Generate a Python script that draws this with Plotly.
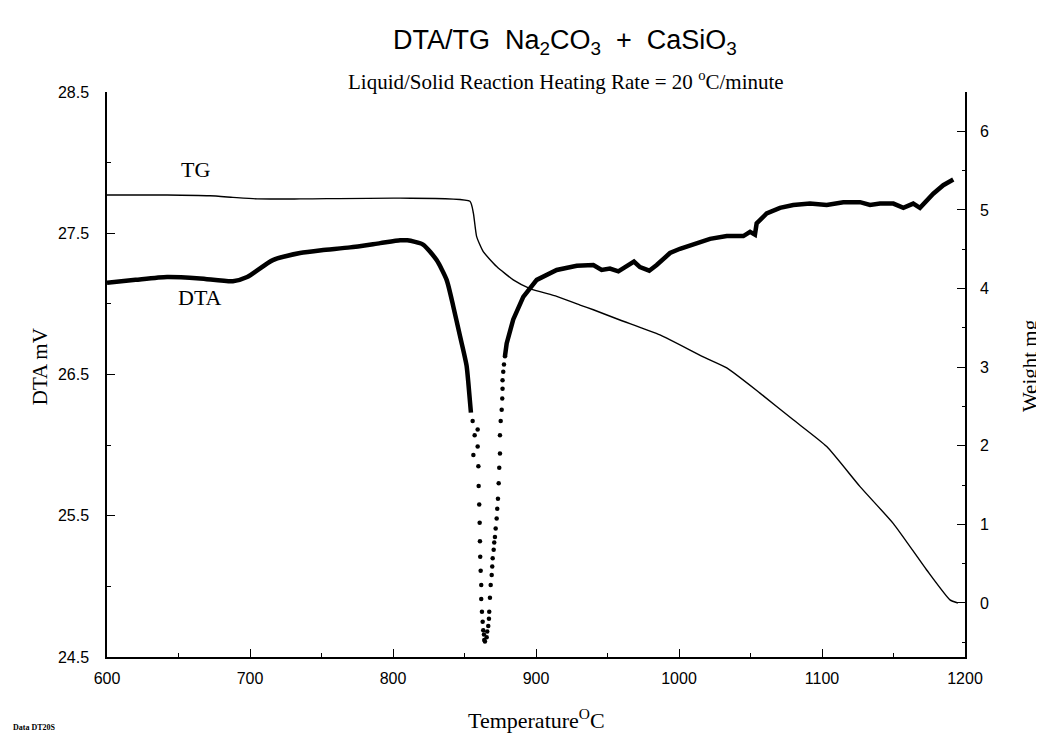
import plotly.graph_objects as go

# ---------------- data ----------------
# DTA (mV) - continuous part before the endotherm
dta_left_T = [600, 620, 642, 665, 688, 698, 716, 735, 750, 770, 791, 805, 810, 821,
              830.5, 837.5, 842.2, 846.9, 849.2, 851.5, 852.7, 854.5]
dta_left_V = [27.15, 27.17, 27.19, 27.18, 27.16, 27.19, 27.31, 27.36, 27.38, 27.40, 27.43, 27.45, 27.45, 27.42,
              27.31, 27.17, 26.98, 26.77, 26.67, 26.56, 26.44, 26.23]

# DTA - sparse sampled points through the endothermic peak
dta_dot_T = [855.7, 859.2, 857.1, 859.2, 856.2, 859.7, 859.9, 860.3, 860.6, 860.8, 861.0, 861.3,
             861.7, 861.7, 862.2, 862.7, 863.1, 863.6, 863.8, 864.3,
             865.5, 865.9, 866.6, 867.1, 867.3, 867.8, 868.3, 869.0, 869.4, 869.7, 870.4, 870.8,
             871.3, 871.8, 872.5, 872.9, 873.4, 873.9, 874.3, 874.8, 874.8, 875.3, 876.0, 876.4,
             876.6, 876.6, 877.1, 877.6, 878.3]
dta_dot_V = [26.17, 26.11, 26.07, 25.99, 25.93, 25.85, 25.71, 25.58, 25.45, 25.32, 25.21, 25.11,
             25.01, 24.91, 24.82, 24.75, 24.69, 24.66, 24.62, 24.61,
             24.64, 24.68, 24.72, 24.77, 24.82, 24.92, 25.01, 25.08, 25.14, 25.20, 25.26, 25.31,
             25.35, 25.41, 25.48, 25.55, 25.62, 25.73, 25.84, 25.94, 26.07, 26.17, 26.25, 26.33,
             26.40, 26.46, 26.52, 26.57, 26.63]

# DTA - continuous part after the endotherm
dta_right_T = [878.3, 879.5, 884.1, 891.1, 900.5, 914.5, 928.5, 940.1, 945.9, 951.7, 957.6, 963.4,
               968.5, 972.7, 979.2, 984.4, 993.7, 1000.7, 1010.0, 1021.7, 1033.4, 1045.0, 1049.7,
               1053.1, 1054.3, 1061.3, 1070.6, 1079.9, 1091.6, 1103.3, 1114.9, 1126.6, 1133.6,
               1140.6, 1149.9, 1156.9, 1163.8, 1168.5, 1177.8, 1184.8, 1191.8]
dta_right_V = [26.63, 26.72, 26.89, 27.05, 27.17, 27.24, 27.27, 27.275, 27.24, 27.25, 27.23, 27.27,
               27.30, 27.26, 27.235, 27.275, 27.36, 27.39, 27.42, 27.46, 27.48, 27.48, 27.51,
               27.49, 27.57, 27.64, 27.68, 27.70, 27.71, 27.70, 27.72, 27.72, 27.70,
               27.71, 27.71, 27.68, 27.71, 27.68, 27.78, 27.84, 27.88]

# TG (weight, mg)
tg_T = [600, 642, 672, 688, 705, 735, 805, 853.8, 856.2, 858.5, 863.1, 872.5, 884.1, 895.8,
        914.5, 930.8, 940.1, 958.7, 986.7, 1017.0, 1033.4, 1056.6, 1079.9, 1103.3, 1126.6,
        1149.9, 1173.2, 1189.5, 1195]
tg_W = [5.19, 5.19, 5.18, 5.16, 5.14, 5.14, 5.15, 5.11, 4.96, 4.66, 4.47, 4.28, 4.11, 4.00,
        3.90, 3.79, 3.73, 3.60, 3.41, 3.13, 2.99, 2.67, 2.33, 1.99, 1.48,
        1.01, 0.42, 0.04, 0.0]

x_ticks = [600, 700, 800, 900, 1000, 1100, 1200]
y_ticks = [24.5, 25.5, 26.5, 27.5, 28.5]
y2_ticks = [0, 1, 2, 3, 4, 5, 6]

# ---------------- figure ----------------
SANS = "Liberation Sans, Arial, sans-serif"
SERIF = "Liberation Serif, Times New Roman, serif"

fig = go.Figure()
fig.add_trace(go.Scatter(x=tg_T, y=tg_W, mode="lines", yaxis="y2",
                         line=dict(color="black", width=1.4, shape="spline", smoothing=0.5),
                         showlegend=False))
fig.add_trace(go.Scatter(x=dta_left_T, y=dta_left_V, mode="lines",
                         line=dict(color="black", width=4.5, shape="spline", smoothing=0.6),
                         showlegend=False))
fig.add_trace(go.Scatter(x=dta_right_T, y=dta_right_V, mode="lines",
                         line=dict(color="black", width=4.5), showlegend=False))
fig.add_trace(go.Scatter(x=dta_dot_T, y=dta_dot_V, mode="markers",
                         marker=dict(color="black", size=4.5), showlegend=False))

axis_common = dict(showline=True, linecolor="black", linewidth=1.5, ticks="inside",
                   ticklen=8, tickwidth=1.2, tickcolor="black", showgrid=False, zeroline=False,
                   tickfont=dict(family=SANS, size=16, color="black"))

# page body has an 8px margin, so the figure is sized to fit the 1044x736 window
fig.update_layout(
    width=1036, height=728,
    margin=dict(l=99, r=79, t=84, b=79),
    paper_bgcolor="white", plot_bgcolor="white",
    xaxis=dict(range=[600, 1200], tickvals=x_ticks, ticklabelstandoff=6,
               minor=dict(dtick=50, tick0=600, ticks="inside", ticklen=4, tickcolor="black"),
               **axis_common),
    yaxis=dict(range=[24.5, 28.5], tickvals=y_ticks, ticktext=[f"{v:.1f}" for v in y_ticks],
               ticklabelstandoff=13,
               minor=dict(dtick=1, tick0=24, ticks="inside", ticklen=4, tickcolor="black"),
               **axis_common),
    yaxis2=dict(range=[-0.687, 6.50], tickvals=y2_ticks, overlaying="y", side="right",
                ticklabelstandoff=10,
                minor=dict(dtick=0.5, tick0=0, ticks="inside", ticklen=3, tickcolor="black"),
                **axis_common),
)

ann = [
    dict(text="DTA/TG  Na<sub>2</sub>CO<sub>3</sub>  +  CaSiO<sub>3</sub>", x=0.534, y=1.088,
         font=dict(family=SANS, size=27, color="black")),
    dict(text="Liquid/Solid Reaction Heating Rate = 20 <sup>o</sup>C/minute", x=0.535, y=1.02,
         font=dict(family=SERIF, size=21, color="black")),
    dict(text="Temperature<sup>O</sup>C", x=0.501, y=-0.11,
         font=dict(family=SERIF, size=22, color="black")),
    dict(text="DTA mV", x=-0.078, y=0.513, textangle=-90,
         font=dict(family=SERIF, size=21, color="black")),
    dict(text="Weight mg", x=1.0758, y=0.515, textangle=-90,
         font=dict(family=SERIF, size=21, color="black")),
    dict(text="TG", x=0.1026, y=0.862, font=dict(family=SERIF, size=22, color="black")),
    dict(text="DTA", x=0.108, y=0.637, font=dict(family=SERIF, size=22, color="black")),
]
for a in ann:
    fig.add_annotation(xref="paper", yref="paper", showarrow=False,
                       xanchor="center", yanchor="middle", **a)

fig.add_annotation(xref="paper", yref="paper", showarrow=False, xanchor="left", yanchor="middle",
                   text="<b>Data DT20S</b>", x=-0.112, y=-0.124,
                   font=dict(family=SERIF, size=8, color="black"))

fig.write_html("out.html")
